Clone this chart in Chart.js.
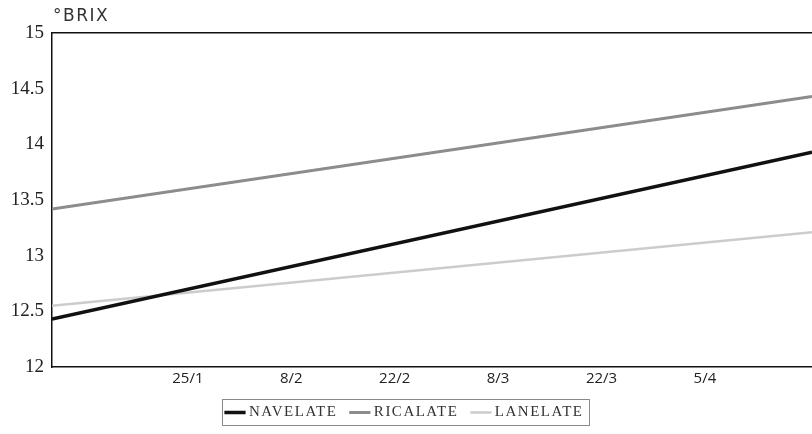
<!DOCTYPE html>
<html>
<head>
<meta charset="utf-8">
<script src="https://cdn.jsdelivr.net/npm/chart.js@4/dist/chart.umd.min.js"></script>
<style>
  html, body { margin: 0; padding: 0; background: #fff; }
  #wrap { width: 812px; height: 434px; }
</style>
</head>
<body>
<div id="wrap"><canvas id="grafico" width="812" height="434"></canvas></div>
<script>
// dias do ano (1 = 1/1)
const tickDays = [25, 39, 53, 67, 81, 95];
const tickLabels = ['25/1', '8/2', '22/2', '8/3', '22/3', '5/4'];
const xDays = [6.6, 109.5];

const navelate = [12.43, 13.93];
const ricalate = [13.42, 14.43];
const lanelate = [12.55, 13.21];

const seriesNames = ['NAVELATE', 'RICALATE', 'LANELATE'];
const yTitle = '°BRIX';

const toPoints = (vals) => vals.map((v, i) => ({ x: xDays[i], y: v }));

// espaçamento entre letras so na legenda + moldura
const legendBox = {
  id: 'legendBox',
  beforeLayout(chart) {
    const lg = chart.legend;
    if (!lg || lg._spaced) return;
    lg._spaced = true;
    const wrap = (fn) => function () {
      const ctx = this.ctx;
      const old = ctx.letterSpacing;
      ctx.letterSpacing = '1.5px';
      const r = fn.apply(this, arguments);
      ctx.letterSpacing = old || '0px';
      return r;
    };
    lg.fit = wrap(lg.fit);
    lg.draw = wrap(lg.draw);
  },
  afterDraw(chart) {
    const lg = chart.legend;
    if (!lg || !lg.legendHitBoxes || !lg.legendHitBoxes.length) return;
    const hb = lg.legendHitBoxes;
    const l = Math.min(...hb.map(b => b.left)) - 6;
    const r = Math.max(...hb.map(b => b.left + b.width)) + 6;
    const t = Math.min(...hb.map(b => b.top)) - 6;
    const bt = Math.max(...hb.map(b => b.top + b.height)) + 5;
    const ctx = chart.ctx;
    ctx.save();
    ctx.strokeStyle = '#8a8a8a';
    ctx.lineWidth = 1;
    ctx.strokeRect(Math.round(l) + 0.5, Math.round(t) + 0.5, Math.round(r - l), Math.round(bt - t));
    ctx.restore();
  }
};

// titulo do eixo y
const axisTitle = {
  id: 'axisTitle',
  afterDraw(chart) {
    const ctx = chart.ctx;
    ctx.save();
    ctx.font = '17px "DejaVu Sans"';
    ctx.letterSpacing = '1.5px';
    ctx.fillStyle = '#333';
    ctx.textBaseline = 'middle';
    ctx.fillText(yTitle, chart.chartArea.left + 1, 17);
    ctx.restore();
  }
};

const config = {
  type: 'line',
  data: {
    datasets: [
      {
        label: seriesNames[0],
        data: toPoints(navelate),
        borderColor: '#111111',
        backgroundColor: '#111111',
        borderWidth: 3.5,
        pointRadius: 0
      },
      {
        label: seriesNames[1],
        data: toPoints(ricalate),
        borderColor: '#8c8c8c',
        backgroundColor: '#8c8c8c',
        borderWidth: 3,
        pointRadius: 0
      },
      {
        label: seriesNames[2],
        data: toPoints(lanelate),
        borderColor: '#cccccc',
        backgroundColor: '#cccccc',
        borderWidth: 2.5,
        pointRadius: 0
      }
    ]
  },
  options: {
    responsive: false,
    animation: false,
    devicePixelRatio: 1,
    layout: { padding: { top: 33, left: 0, right: 0, bottom: 4 } },
    plugins: {
      tooltip: { enabled: false },
      legend: {
        position: 'bottom',
        labels: {
          usePointStyle: true,
          pointStyle: 'line',
          boxWidth: 13,
          padding: 16,
          color: '#333',
          font: { family: '"Liberation Serif"', size: 15 }
        }
      }
    },
    scales: {
      x: {
        type: 'linear',
        min: xDays[0],
        max: xDays[1],
        afterBuildTicks: (scale) => {
          scale.ticks = tickDays.map(v => ({ value: v }));
        },
        afterFit: (scale) => { scale.height = 22; },
        grid: { display: false, drawTicks: false },
        border: { display: true, color: '#111', width: 1.5 },
        ticks: {
          padding: 3,
          color: '#222',
          font: { family: '"Open Sans"', size: 15 },
          callback: (v) => {
            const i = tickDays.indexOf(v);
            return i >= 0 ? tickLabels[i] : '';
          }
        }
      },
      xTop: {
        type: 'linear',
        position: 'top',
        min: xDays[0],
        max: xDays[1],
        afterFit: (scale) => { scale.height = 0; },
        grid: { display: false, drawTicks: false },
        border: { display: true, color: '#111', width: 1.5 },
        ticks: { display: false }
      },
      y: {
        min: 12,
        max: 15,
        afterFit: (scale) => { scale.width = 52; },
        grid: { display: false, drawTicks: false },
        border: { display: true, color: '#111', width: 1.5 },
        ticks: {
          stepSize: 0.5,
          padding: 8,
          color: '#222',
          font: { family: '"Liberation Serif"', size: 19 },
          callback: (v) => String(v)
        }
      }
    }
  },
  plugins: [legendBox, axisTitle]
};

new Chart(document.getElementById('grafico'), config);
</script>
</body>
</html>
